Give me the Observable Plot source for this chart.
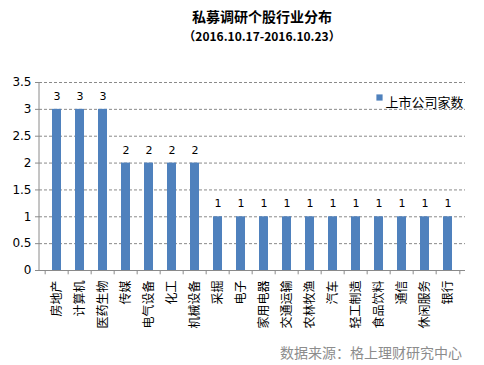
<!DOCTYPE html>
<html><head><meta charset="utf-8">
<script src="https://cdn.jsdelivr.net/npm/d3@7"></script>
<script src="https://cdn.jsdelivr.net/npm/@observablehq/plot@0.6"></script>
<style>
body{margin:0;background:#fff;}
#wrap{position:relative;width:484px;height:365px;overflow:hidden;}
.t{position:absolute;left:0;width:484px;text-align:center;font-family:"Noto Sans CJK SC";font-weight:bold;color:#000;}
</style></head><body>
<div id="wrap">
<div id="chart" style="position:absolute;left:0;top:0;"></div>
<div class="t" style="top:5.5px;font-size:14px;line-height:20px;padding-left:20px;">私募调研个股行业分布</div>
<div class="t" style="top:26.5px;font-size:12px;line-height:17px;padding-left:20px;">（2016.10.17-2016.10.23）</div>
<div style="position:absolute;left:280px;top:342px;font-family:'Noto Sans CJK SC';font-size:14px;color:#8c8c8c;">数据来源：格上理财研究中心</div>
</div>
<script>
const categories = ["房地产","计算机","医药生物","传媒","电气设备","化工","机械设备","采掘","电子","家用电器","交通运输","农林牧渔","汽车","轻工制造","食品饮料","通信","休闲服务","银行"];
const values = [3,3,3,2,2,2,2,1,1,1,1,1,1,1,1,1,1,1];
const yTicks = [0,0.5,1,1.5,2,2.5,3,3.5];
const seriesName = "上市公司家数";
const data = categories.map((c,i)=>({c, v: values[i]}));
const color = "#4F81BD";
const ml = 39, mr = 19, W = 484;
const step = (W - ml - mr) / categories.length;
const plot = Plot.plot({
  width: W, height: 365,
  marginLeft: ml, marginRight: mr, marginTop: 82, marginBottom: 95,
  style: {fontFamily: "DejaVu Sans", fontSize: "11px", color: "#000", background: "transparent"},
  x: {domain: categories, paddingInner: 0.62, paddingOuter: 0.31, label: null, axis: null},
  y: {domain: [0, 3.5], ticks: yTicks, label: null, axis: null},
  marks: [
    Plot.ruleY(yTicks.filter(d=>d>0), {stroke: "#8a8a8a", strokeDasharray: "3,2", strokeWidth: 1}),
    Plot.barY(data, {x: "c", y: "v", fill: color}),
    Plot.text(data, {x: "c", y: "v", text: d=>String(d.v), dy: -13, fontSize: 11, fill: "#000"}),
    Plot.axisY({ticks: yTicks, tickSize: 4, tickPadding: 4, stroke: "#8a8a8a", fill: "#000", fontSize: 12, tickFormat: d=>String(d)}),
    Plot.axisX({tickSize: 0, tickPadding: 10, tickRotate: -90, fill: "#000", fontSize: 12, fontFamily: "Noto Sans CJK SC", textAnchor: "end"}),
    Plot.ruleX(categories, {x: d=>d, dx: -step/2, y1: 0, y2: -0.08, stroke: "#8a8a8a"}),
    Plot.ruleX([categories[categories.length-1]], {x: d=>d, dx: step/2, y1: 0, y2: -0.08, stroke: "#8a8a8a"}),
    Plot.ruleY([0], {stroke: "#8a8a8a"}),
    Plot.dot([seriesName], {frameAnchor: "top-left", dx: 340, dy: 15, symbol: "square", r: 3.5, fill: color, stroke: null}),
    Plot.text([seriesName], {frameAnchor: "top-left", dx: 346, dy: 15, text: d=>d, textAnchor: "start", fontSize: 13, fontFamily: "Noto Sans CJK SC", fill: "#000"})
  ]
});
d3.select(plot).append("line").attr("x1",ml).attr("x2",ml).attr("y1",82).attr("y2",270).attr("stroke","#8a8a8a");
document.getElementById("chart").appendChild(plot);
</script>
</body></html>
